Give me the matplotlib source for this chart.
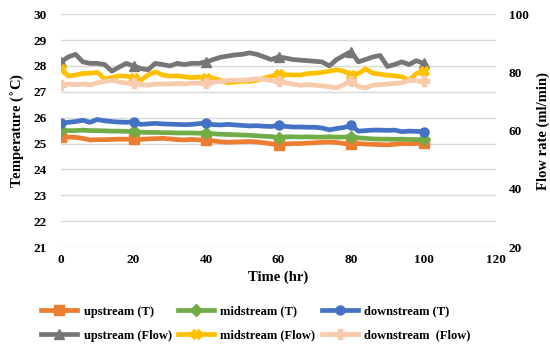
import matplotlib
matplotlib.use("Agg")
import matplotlib.pyplot as plt

time_hr = list(range(0, 101, 2))

up_T = [25.26, 25.25, 25.24, 25.20, 25.14, 25.15, 25.15, 25.16, 25.17, 25.17, 25.16,
        25.16, 25.18, 25.19, 25.20, 25.18, 25.15, 25.14, 25.16, 25.14, 25.15,
        25.10, 25.07, 25.05, 25.06, 25.07, 25.08, 25.06, 25.03, 24.99, 24.95,
        24.98, 25.00, 25.00, 25.02, 25.03, 25.05, 25.06, 25.04, 25.00, 25.00,
        25.00, 24.98, 24.97, 24.96, 24.95, 24.97, 25.00, 24.99, 25.00, 25.02]
mid_T = [25.52, 25.50, 25.50, 25.52, 25.50, 25.50, 25.49, 25.48, 25.48, 25.47, 25.47,
         25.44, 25.43, 25.43, 25.42, 25.42, 25.41, 25.41, 25.41, 25.40, 25.41,
         25.38, 25.36, 25.35, 25.34, 25.33, 25.32, 25.30, 25.28, 25.27, 25.22,
         25.26, 25.26, 25.25, 25.26, 25.25, 25.25, 25.26, 25.25, 25.25, 25.27,
         25.22, 25.20, 25.18, 25.17, 25.17, 25.16, 25.17, 25.16, 25.15, 25.16]
down_T = [25.79, 25.82, 25.85, 25.90, 25.82, 25.93, 25.88, 25.85, 25.83, 25.82, 25.84,
          25.74, 25.76, 25.78, 25.76, 25.75, 25.74, 25.73, 25.74, 25.77, 25.79,
          25.73, 25.72, 25.74, 25.72, 25.70, 25.68, 25.69, 25.67, 25.66, 25.70,
          25.66, 25.64, 25.64, 25.63, 25.63, 25.60, 25.53, 25.58, 25.62, 25.70,
          25.48, 25.50, 25.52, 25.52, 25.51, 25.52, 25.46, 25.48, 25.47, 25.46]

up_F = [83.6, 85.3, 86.2, 83.6, 83.1, 83.1, 82.7, 80.4, 81.8, 83.1, 82.2,
        81.3, 80.9, 83.1, 82.7, 82.2, 83.1, 82.7, 83.1, 83.1, 83.6,
        84.4, 85.2, 85.6, 86.0, 86.2, 86.7, 86.2, 85.3, 84.4, 85.3,
        84.9, 84.4, 84.2, 84.0, 83.8, 83.6, 82.2, 84.4, 85.8, 87.1,
        83.6, 84.4, 85.3, 85.8, 82.0, 82.7, 83.6, 82.7, 84.0, 83.1]
mid_F = [81.3, 78.7, 79.1, 79.6, 79.7, 80.0, 77.8, 78.2, 78.8, 78.7, 78.2,
         77.3, 79.1, 80.2, 79.1, 78.7, 78.8, 78.5, 78.2, 78.4, 78.2,
         78.0, 77.3, 76.4, 76.7, 76.9, 76.9, 77.3, 78.0, 78.7, 79.4,
         79.2, 79.1, 79.1, 79.6, 79.7, 80.0, 80.4, 80.9, 80.4, 79.1,
         79.6, 81.2, 79.7, 79.4, 79.0, 78.8, 78.5, 77.3, 79.6, 80.4]
down_F = [75.7, 76.0, 75.8, 76.0, 75.7, 76.4, 76.9, 77.3, 76.7, 76.3, 76.5,
          75.8, 75.6, 76.0, 76.0, 76.0, 76.2, 76.0, 76.3, 76.3, 76.4,
          76.6, 76.9, 77.2, 77.3, 77.3, 77.5, 77.8, 77.6, 77.2, 76.9,
          76.4, 76.0, 75.6, 75.8, 75.6, 75.3, 75.1, 74.7, 75.8, 76.9,
          75.1, 74.7, 75.6, 75.8, 76.0, 76.2, 76.4, 77.3, 77.1, 76.9]

x_ticks = [0, 20, 40, 60, 80, 100, 120]
left_ticks = list(range(21, 31))
right_ticks = [20, 40, 60, 80, 100]

labels = ["upstream (T)", "midstream (T)", "downstream (T)",
          "upstream (Flow)", "midstream (Flow)", "downstream  (Flow)"]
colors = ["#ED7D31", "#70AD47", "#4472C4", "#767676", "#FFC000", "#F8CBAD"]
markers = ["s", "D", "o", "^", "X", "P"]

plt.rcParams['font.family'] = ['Liberation Serif', 'DejaVu Serif']
plt.rcParams['font.weight'] = 'bold'

fig = plt.figure(figsize=(5.5, 3.53), dpi=100)
ax = fig.add_axes([0.111, 0.300, 0.791, 0.660])
ax2 = ax.twinx()

lw = 3.4
ms = 6.5
handles = {}
for i, ser in enumerate([up_T, mid_T, down_T]):
    ln, = ax.plot(time_hr, ser, color=colors[i], lw=lw, marker=markers[i],
                  markersize=ms, markevery=10, label=labels[i], zorder=3)
    handles[i] = ln
for j, ser in enumerate([up_F, mid_F, down_F]):
    i = j + 3
    ln, = ax2.plot(time_hr, ser, color=colors[i], lw=lw, marker=markers[i],
                   markersize=ms, markevery=10, label=labels[i], zorder=3)
    handles[i] = ln

ax.set_xlim(0, 120)
ax.set_ylim(21, 30)
ax2.set_ylim(20, 100)
ax.set_xticks(x_ticks)
ax.set_yticks(left_ticks)
ax2.set_yticks(right_ticks)
ax.grid(axis='y', color='#D9D9D9', lw=1)
ax.set_axisbelow(True)
for a in (ax, ax2):
    for s in a.spines.values():
        s.set_visible(False)
    a.tick_params(length=0, labelsize=9.5)
ax.tick_params(axis='y', pad=10)
ax.tick_params(axis='x', pad=5)
ax2.tick_params(axis='y', pad=9)

ax.set_xlabel("Time (hr)", fontsize=10.5, fontweight='bold', labelpad=3)
ax.set_ylabel("Temperature ($^{\\circ}$C)", fontsize=10.5, fontweight='bold', labelpad=5)
ax2.set_ylabel("Flow rate (ml/min)", fontsize=10.5, fontweight='bold', labelpad=6)

order = [0, 3, 1, 4, 2, 5]
leg = fig.legend([handles[k] for k in order], [labels[k] for k in order],
                 ncol=3, loc='center', bbox_to_anchor=(0.465, 0.083),
                 frameon=False, handlelength=2.9,
                 columnspacing=0.5, handletextpad=0.5, labelspacing=0.95,
                 prop={'weight': 'bold', 'size': 9})

fig.savefig("out.png", dpi=100)
